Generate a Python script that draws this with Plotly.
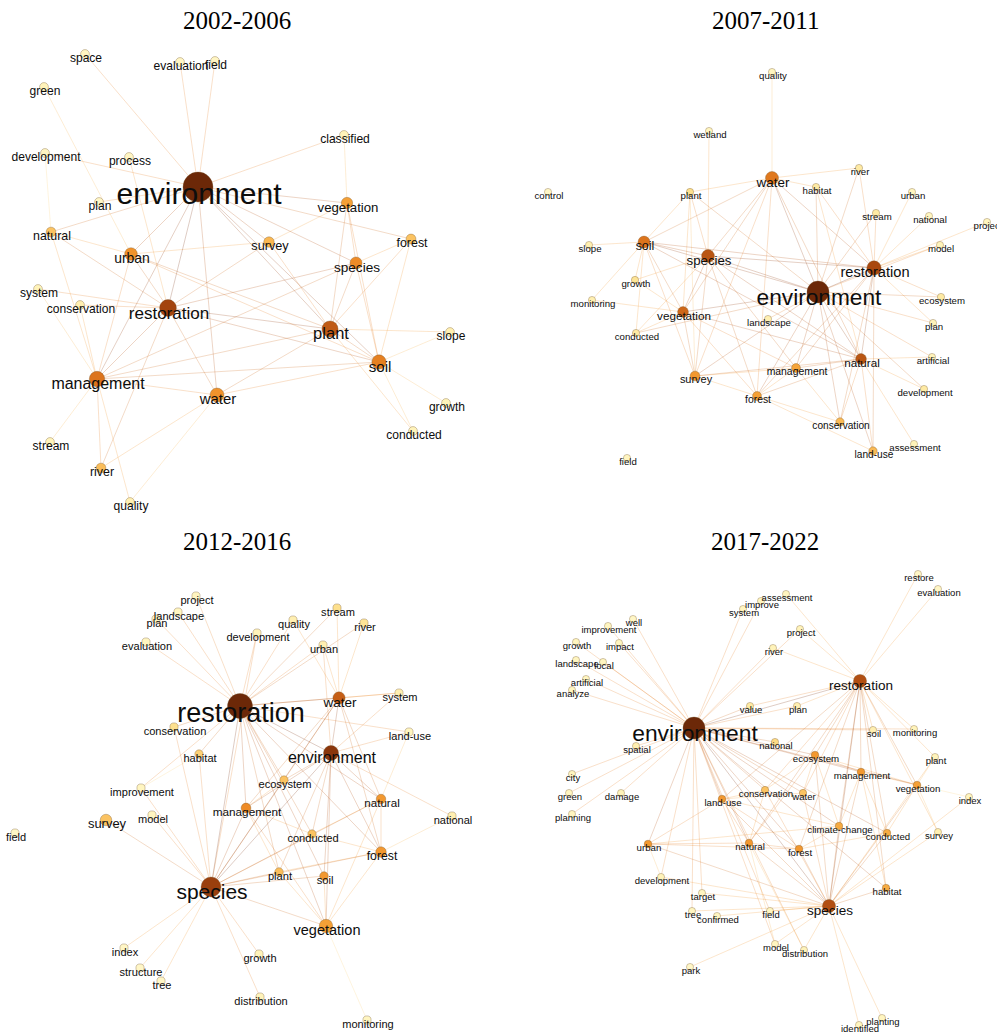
import plotly.graph_objects as go

# ---------------------------------------------------------------------------
# Keyword co-occurrence networks, four periods.
# Each node: layout position (x, y), frequency weight (drives node and label
# size) and centrality (drives node colour). Edges are keyword pairs.
# ---------------------------------------------------------------------------

# ---- 2002-2006 ----
p1_names = ["environment", "restoration", "plant", "management", "soil", "water", "urban",
            "species", "vegetation", "survey", "forest", "river", "natural", "space",
            "evaluation", "field", "green", "development", "process", "classified", "plan",
            "system", "conservation", "slope", "growth", "conducted", "stream", "quality"]
p1_x = [198, 168, 330, 97, 379, 217, 131, 356, 347, 269, 411, 101, 51, 85,
        180, 215, 44, 45, 129, 344, 99, 38, 80, 450, 446, 413, 50, 130]
p1_y = [187, 308, 329, 379, 362, 395, 254, 263, 203, 242, 239, 468, 232, 54,
        62, 61, 87, 153, 157, 135, 202, 289, 305, 332, 403, 431, 442, 502]
p1_freq = [1.0, 0.53, 0.5, 0.47, 0.42, 0.4, 0.33, 0.3, 0.26, 0.2, 0.16, 0.15, 0.15, 0.06,
           0.06, 0.06, 0.06, 0.06, 0.06, 0.07, 0.06, 0.06, 0.06, 0.06, 0.06, 0.06, 0.06, 0.06]
p1_cent = [0.97, 0.8, 0.7, 0.6, 0.55, 0.47, 0.47, 0.5, 0.42, 0.34, 0.3, 0.32, 0.3, 0.07,
           0.07, 0.07, 0.1, 0.07, 0.07, 0.1, 0.06, 0.1, 0.12, 0.12, 0.1, 0.1, 0.1, 0.12]
p1_edges = [
    ("environment", "space"), ("environment", "evaluation"), ("environment", "field"),
    ("environment", "development"), ("environment", "classified"), ("environment", "vegetation"),
    ("environment", "forest"), ("environment", "plan"), ("environment", "urban"),
    ("environment", "restoration"), ("environment", "management"), ("environment", "water"),
    ("environment", "plant"), ("environment", "soil"), ("environment", "species"),
    ("environment", "survey"), ("environment", "natural"),
    ("green", "urban"), ("process", "restoration"), ("development", "natural"),
    ("classified", "vegetation"), ("vegetation", "species"), ("vegetation", "survey"),
    ("vegetation", "plant"), ("vegetation", "soil"), ("forest", "species"), ("forest", "plant"),
    ("forest", "soil"), ("survey", "urban"), ("survey", "plant"), ("survey", "restoration"),
    ("natural", "restoration"), ("natural", "management"), ("natural", "urban"),
    ("urban", "restoration"), ("urban", "management"), ("urban", "plant"), ("urban", "soil"),
    ("species", "restoration"), ("species", "plant"), ("species", "soil"),
    ("species", "management"), ("system", "management"), ("system", "restoration"),
    ("conservation", "management"), ("conservation", "restoration"),
    ("restoration", "plant"), ("restoration", "water"), ("restoration", "management"),
    ("restoration", "river"), ("restoration", "soil"), ("plant", "slope"), ("plant", "soil"),
    ("plant", "water"), ("plant", "management"), ("plant", "conducted"), ("soil", "slope"),
    ("soil", "growth"), ("soil", "conducted"), ("soil", "management"), ("soil", "water"),
    ("management", "water"), ("management", "stream"), ("management", "river"),
    ("management", "quality"), ("water", "river"), ("water", "quality"),
]

# ---- 2007-2011 ----
p2_names = ["environment", "restoration", "species", "water", "soil", "natural", "vegetation",
            "survey", "management", "forest", "conservation", "land-use", "quality", "wetland",
            "river", "habitat", "control", "plant", "urban", "stream", "national", "project",
            "slope", "model", "growth", "ecosystem", "monitoring", "landscape", "plan",
            "conducted", "artificial", "development", "assessment", "field"]
p2_x = [318, 374, 208, 272, 144, 361, 183, 195, 296, 257, 340, 373, 272, 209,
        359, 316, 48, 190, 412, 376, 429, 487, 89, 440, 135, 441, 92, 268, 433,
        136, 432, 424, 414, 127]
p2_y = [292, 268, 256, 178, 242, 359, 312, 376, 368, 396, 422, 451, 72, 131,
        168, 187, 192, 192, 192, 213, 216, 222, 245, 245, 280, 297, 300, 319, 323,
        333, 357, 389, 444, 458]
p2_freq = [1.0, 0.62, 0.53, 0.54, 0.47, 0.4, 0.4, 0.32, 0.25, 0.25, 0.2, 0.2, 0.05, 0.05,
           0.06, 0.06, 0.05, 0.07, 0.05, 0.06, 0.05, 0.05, 0.05, 0.05, 0.07, 0.06, 0.05,
           0.05, 0.06, 0.06, 0.05, 0.06, 0.05, 0.05]
p2_cent = [0.97, 0.78, 0.72, 0.58, 0.6, 0.72, 0.65, 0.45, 0.4, 0.42, 0.33, 0.33, 0.08, 0.08,
           0.15, 0.15, 0.06, 0.2, 0.08, 0.15, 0.08, 0.08, 0.12, 0.1, 0.18, 0.15, 0.12,
           0.12, 0.1, 0.15, 0.1, 0.15, 0.1, 0.08]
p2_edges = [
    ("water", "quality"), ("water", "river"), ("water", "habitat"), ("water", "plant"),
    ("water", "soil"), ("water", "species"), ("water", "environment"), ("water", "restoration"),
    ("water", "survey"), ("water", "vegetation"), ("water", "natural"), ("water", "forest"),
    ("wetland", "species"), ("plant", "soil"), ("plant", "species"), ("plant", "vegetation"),
    ("plant", "survey"), ("plant", "environment"), ("habitat", "environment"),
    ("habitat", "natural"), ("habitat", "restoration"), ("river", "restoration"),
    ("river", "environment"), ("urban", "restoration"), ("stream", "restoration"),
    ("stream", "environment"), ("national", "restoration"), ("project", "restoration"),
    ("model", "restoration"), ("model", "environment"), ("soil", "slope"), ("soil", "species"),
    ("soil", "growth"), ("soil", "environment"), ("soil", "vegetation"), ("soil", "conducted"),
    ("soil", "survey"), ("soil", "restoration"), ("soil", "monitoring"), ("soil", "natural"),
    ("species", "environment"), ("species", "restoration"), ("species", "vegetation"),
    ("species", "survey"), ("species", "forest"), ("species", "growth"), ("species", "natural"),
    ("species", "management"), ("species", "conducted"), ("restoration", "environment"),
    ("restoration", "natural"), ("restoration", "ecosystem"), ("restoration", "conservation"),
    ("restoration", "plan"), ("restoration", "land-use"), ("restoration", "forest"),
    ("restoration", "management"), ("environment", "vegetation"), ("environment", "landscape"),
    ("environment", "management"), ("environment", "natural"), ("environment", "forest"),
    ("environment", "survey"), ("environment", "plan"), ("environment", "ecosystem"),
    ("environment", "artificial"), ("environment", "development"),
    ("environment", "conservation"), ("environment", "land-use"), ("environment", "conducted"),
    ("vegetation", "survey"), ("vegetation", "forest"), ("vegetation", "conducted"),
    ("vegetation", "monitoring"), ("vegetation", "natural"), ("vegetation", "management"),
    ("vegetation", "growth"), ("natural", "management"), ("natural", "development"),
    ("natural", "land-use"), ("natural", "assessment"), ("natural", "conservation"),
    ("natural", "artificial"), ("natural", "forest"), ("survey", "forest"),
    ("survey", "management"), ("survey", "natural"), ("management", "forest"),
    ("management", "conservation"), ("forest", "land-use"), ("forest", "conservation"),
]

# ---- 2012-2016 ----
p3_names = ["restoration", "species", "environment", "vegetation", "water", "survey", "forest",
            "management", "natural", "ecosystem", "conducted", "plant", "soil", "habitat",
            "project", "landscape", "plan", "quality", "stream", "river", "development",
            "evaluation", "urban", "system", "conservation", "land-use", "improvement",
            "national", "model", "field", "index", "growth", "structure", "tree",
            "distribution", "monitoring"]
p3_x = [240, 211, 331, 326, 339, 106, 381, 246, 381, 284, 312, 279, 324, 199,
        196, 178, 156, 293, 337, 364, 257, 146, 323, 399, 174, 409, 141,
        452, 152, 15, 124, 259, 140, 161, 260, 367]
p3_y = [190, 371, 237, 410, 182, 304, 336, 292, 283, 264, 318, 356, 360, 238,
        80, 96, 103, 104, 92, 107, 117, 126, 129, 177, 211, 216, 272,
        300, 299, 317, 432, 438, 452, 465, 481, 504]
p3_freq = [1.0, 0.79, 0.56, 0.47, 0.4, 0.35, 0.28, 0.22, 0.2, 0.08, 0.08, 0.1, 0.1, 0.07,
           0.05, 0.05, 0.05, 0.05, 0.06, 0.06, 0.05, 0.05, 0.05, 0.05, 0.06, 0.05, 0.05,
           0.05, 0.05, 0.04, 0.05, 0.05, 0.05, 0.05, 0.05, 0.05]
p3_cent = [0.97, 0.83, 0.88, 0.42, 0.68, 0.3, 0.45, 0.5, 0.45, 0.3, 0.3, 0.32, 0.45, 0.25,
           0.08, 0.08, 0.08, 0.12, 0.2, 0.18, 0.1, 0.08, 0.12, 0.12, 0.2, 0.08, 0.08,
           0.12, 0.08, 0.06, 0.06, 0.1, 0.06, 0.06, 0.1, 0.08]
p3_edges = [
    ("restoration", "project"), ("restoration", "landscape"), ("restoration", "plan"),
    ("restoration", "evaluation"), ("restoration", "development"), ("restoration", "quality"),
    ("restoration", "stream"), ("restoration", "river"), ("restoration", "urban"),
    ("restoration", "water"), ("restoration", "system"), ("restoration", "conservation"),
    ("restoration", "habitat"), ("restoration", "environment"), ("restoration", "ecosystem"),
    ("restoration", "improvement"), ("restoration", "management"), ("restoration", "natural"),
    ("restoration", "conducted"), ("restoration", "soil"), ("restoration", "plant"),
    ("restoration", "species"), ("restoration", "vegetation"), ("restoration", "forest"),
    ("restoration", "land-use"), ("water", "stream"), ("water", "river"), ("water", "urban"),
    ("water", "quality"), ("water", "system"), ("water", "environment"), ("water", "natural"),
    ("water", "species"), ("water", "forest"), ("water", "management"), ("water", "ecosystem"),
    ("environment", "urban"), ("environment", "land-use"), ("environment", "ecosystem"),
    ("environment", "natural"), ("environment", "management"), ("environment", "species"),
    ("environment", "forest"), ("environment", "conducted"), ("environment", "soil"),
    ("environment", "plant"), ("environment", "vegetation"), ("environment", "national"),
    ("environment", "system"), ("species", "survey"), ("species", "model"),
    ("species", "index"), ("species", "structure"), ("species", "tree"), ("species", "growth"),
    ("species", "distribution"), ("species", "plant"), ("species", "soil"),
    ("species", "vegetation"), ("species", "management"), ("species", "habitat"),
    ("species", "improvement"), ("species", "conservation"), ("species", "forest"),
    ("species", "natural"), ("species", "ecosystem"), ("species", "conducted"),
    ("species", "development"), ("vegetation", "monitoring"), ("vegetation", "soil"),
    ("vegetation", "plant"), ("vegetation", "forest"), ("vegetation", "natural"),
    ("vegetation", "management"), ("forest", "plant"), ("forest", "natural"),
    ("forest", "national"), ("forest", "conducted"), ("natural", "land-use"),
    ("natural", "conducted"), ("habitat", "improvement"), ("management", "ecosystem"),
    ("management", "plant"), ("management", "conducted"),
]

# ---- 2017-2022 ----
p4_names = ["environment", "restoration", "species", "ecosystem", "management", "vegetation",
            "land-use", "natural", "forest", "urban", "climate-change", "conducted", "habitat",
            "conservation", "water", "national", "restore", "evaluation", "assessment",
            "improve", "system", "well", "improvement", "project", "growth", "impact", "river",
            "landscape", "local", "artificial", "analyze", "value", "plan", "soil",
            "monitoring", "spatial", "plant", "city", "green", "damage", "index", "planning",
            "survey", "development", "target", "tree", "confirmed", "field", "model",
            "distribution", "park", "planting", "identified"]
p4_x = [194, 360, 329, 315, 361, 417, 222, 249, 299, 148, 339, 387, 386, 265, 303, 275,
        418, 438, 286, 261, 243, 133, 108, 300, 76, 119, 273, 76, 103, 86, 72, 250, 297,
        373, 414, 136, 435, 72, 69, 121, 469, 72, 438, 161, 202, 192, 217, 270, 275, 304,
        190, 382, 359]
p4_y = [212, 165, 390, 239, 256, 269, 283, 327, 333, 328, 310, 317, 372, 274, 277, 226,
        58, 73, 78, 85, 93, 103, 110, 113, 126, 127, 132, 144, 146, 163, 174, 190, 190,
        214, 213, 230, 241, 258, 277, 277, 281, 298, 316, 361, 377, 395, 400, 395, 428,
        434, 451, 502, 509]
p4_freq = [1.0, 0.55, 0.55, 0.12, 0.12, 0.12, 0.12, 0.12, 0.12, 0.12, 0.1, 0.1, 0.1, 0.08,
           0.08, 0.06, 0.04, 0.04, 0.04, 0.04, 0.04, 0.04, 0.04, 0.04, 0.04, 0.04, 0.04,
           0.04, 0.04, 0.04, 0.04, 0.05, 0.05, 0.05, 0.04, 0.04, 0.04, 0.04, 0.04, 0.04,
           0.04, 0.04, 0.04, 0.04, 0.04, 0.04, 0.04, 0.04, 0.04, 0.04, 0.04, 0.04, 0.04]
p4_cent = [0.97, 0.75, 0.75, 0.45, 0.45, 0.42, 0.45, 0.45, 0.45, 0.45, 0.38, 0.38, 0.38, 0.3,
           0.3, 0.22, 0.06, 0.06, 0.08, 0.08, 0.08, 0.06, 0.08, 0.1, 0.08, 0.08, 0.1, 0.08,
           0.08, 0.08, 0.08, 0.15, 0.12, 0.12, 0.1, 0.12, 0.1, 0.08, 0.08, 0.1, 0.08, 0.08,
           0.12, 0.1, 0.08, 0.08, 0.08, 0.08, 0.08, 0.1, 0.06, 0.08, 0.08]
p4_edges = (
    [("environment", k) for k in [
        "well", "improvement", "growth", "impact", "landscape", "local", "artificial",
        "analyze", "system", "improve", "river", "project", "value", "plan", "restoration",
        "soil", "monitoring", "spatial", "national", "ecosystem", "management", "city",
        "green", "damage", "planning", "land-use", "conservation", "water", "urban",
        "development", "natural", "forest", "climate-change", "conducted", "target", "tree",
        "species", "field", "model", "distribution", "vegetation", "habitat"]]
    + [("restoration", k) for k in [
        "restore", "evaluation", "assessment", "project", "river", "plan", "soil",
        "monitoring", "plant", "ecosystem", "management", "vegetation", "conducted",
        "habitat", "climate-change", "forest", "natural", "water", "species", "land-use",
        "conservation", "survey", "value"]]
    + [("species", k) for k in [
        "planting", "identified", "park", "model", "distribution", "field", "confirmed",
        "tree", "target", "habitat", "survey", "conducted", "climate-change", "forest",
        "natural", "urban", "land-use", "conservation", "water", "ecosystem", "management",
        "vegetation", "index", "plant", "development"]]
    + [("vegetation", "plant"), ("vegetation", "index"), ("vegetation", "survey"),
       ("vegetation", "conducted"), ("vegetation", "management"), ("vegetation", "ecosystem"),
       ("urban", "land-use"), ("urban", "development"), ("urban", "natural"),
       ("urban", "forest"), ("urban", "climate-change"), ("natural", "forest"),
       ("natural", "land-use"), ("natural", "distribution"), ("natural", "model"),
       ("natural", "conservation"), ("natural", "ecosystem"), ("land-use", "conservation"),
       ("land-use", "water"), ("land-use", "forest"), ("land-use", "climate-change"),
       ("management", "ecosystem"), ("management", "conducted"),
       ("management", "climate-change"), ("management", "habitat"),
       ("ecosystem", "water"), ("ecosystem", "conservation"), ("ecosystem", "climate-change"),
       ("forest", "climate-change"), ("forest", "conducted")]
)

titles = ["2002-2006", "2007-2011", "2012-2016", "2017-2022"]

# ---------------------------------------------------------------------------
# Styling
# ---------------------------------------------------------------------------
FIG_W, FIG_H = 997, 1033
COL_W = [500, 497]
ROW_H = [516, 517]

NODE_STOPS = [
    (0.0, "#fffbd8"), (0.1, "#fff3ba"), (0.2, "#fde08e"), (0.3, "#fbc362"),
    (0.4, "#f6a53a"), (0.5, "#ee8b26"), (0.6, "#dc741c"), (0.7, "#c05a14"),
    (0.8, "#a3440e"), (0.9, "#84320a"), (1.0, "#622407"),
]

# (min node diameter, max diameter, min label size, max label size)
panel_style = [
    (8.5, 30, 12, 30),
    (7.0, 22, 9.6, 22.7),
    (8.0, 25, 11, 27),
    (7.0, 22, 9.5, 22.8),
]

LABEL_FONT = "Liberation Sans, Arial, sans-serif"


def hex_rgb(h):
    h = h.lstrip("#")
    return tuple(int(h[i:i + 2], 16) for i in (0, 2, 4))


def scale_rgb(v):
    v = max(0.0, min(1.0, v))
    for (a, ca), (b, cb) in zip(NODE_STOPS[:-1], NODE_STOPS[1:]):
        if a <= v <= b:
            t = (v - a) / (b - a) if b > a else 0
            r1, g1, b1 = hex_rgb(ca)
            r2, g2, b2 = hex_rgb(cb)
            return (round(r1 + (r2 - r1) * t), round(g1 + (g2 - g1) * t),
                    round(b1 + (b2 - b1) * t))
    return hex_rgb(NODE_STOPS[-1][1])


panels = [
    (p1_names, p1_x, p1_y, p1_freq, p1_cent, p1_edges),
    (p2_names, p2_x, p2_y, p2_freq, p2_cent, p2_edges),
    (p3_names, p3_x, p3_y, p3_freq, p3_cent, p3_edges),
    (p4_names, p4_x, p4_y, p4_freq, p4_cent, p4_edges),
]

fig = go.Figure()
layout_axes = {}
annotations = []

for i, (names, xs, ys, freq, cent, edges) in enumerate(panels):
    row, col = divmod(i, 2)
    suffix = "" if i == 0 else str(i + 1)
    xref, yref = "x" + suffix, "y" + suffix
    dmin, dmax, fmin, fmax = panel_style[i]

    x0 = sum(COL_W[:col]) / FIG_W
    x1 = sum(COL_W[:col + 1]) / FIG_W
    ytop = 1 - sum(ROW_H[:row]) / FIG_H
    ybot = 1 - sum(ROW_H[:row + 1]) / FIG_H
    layout_axes["xaxis" + suffix] = dict(domain=[x0, x1], range=[0, COL_W[col]],
                                         visible=False, fixedrange=True, anchor=yref)
    layout_axes["yaxis" + suffix] = dict(domain=[ybot, ytop], range=[ROW_H[row], 0],
                                         visible=False, fixedrange=True, anchor=xref)

    pos = {n: (x, y) for n, x, y in zip(names, xs, ys)}
    cval = dict(zip(names, cent))

    # edges grouped by the mixed colour of their two endpoints
    buckets = {}
    for a, b in edges:
        if a not in pos or b not in pos:
            continue
        key = round((cval[a] + cval[b]) / 2, 1)
        bx, by = buckets.setdefault(key, ([], []))
        bx += [pos[a][0], pos[b][0], None]
        by += [pos[a][1], pos[b][1], None]
    for key in sorted(buckets):
        r, g, b = scale_rgb(key + 0.05)
        bx, by = buckets[key]
        fig.add_trace(go.Scatter(
            x=bx, y=by, mode="lines", xaxis=xref, yaxis=yref,
            line=dict(color=f"rgba({r},{g},{b},0.32)", width=0.75),
            hoverinfo="skip"))

    diam = [dmin + (dmax - dmin) * w ** 1.5 for w in freq]
    fsize = [fmin + (fmax - fmin) * w ** 2 for w in freq]

    # small nodes first so the larger ones sit on top
    order = sorted(range(len(names)), key=lambda k: freq[k])
    fig.add_trace(go.Scatter(
        x=[xs[k] for k in order], y=[ys[k] for k in order], mode="markers",
        xaxis=xref, yaxis=yref,
        marker=dict(size=[diam[k] for k in order], color=[cent[k] for k in order],
                    colorscale=[[s, c] for s, c in NODE_STOPS], cmin=0, cmax=1,
                    line=dict(color="rgba(110,80,40,0.55)", width=0.6), opacity=1),
        text=[names[k] for k in order], hoverinfo="text"))

    fig.add_trace(go.Scatter(
        x=[xs[k] + 1 for k in order],
        y=[ys[k] + 2 + 0.25 * fsize[k] for k in order],
        mode="text", xaxis=xref, yaxis=yref,
        text=[names[k] for k in order],
        textposition="middle center",
        textfont=dict(size=[fsize[k] for k in order], color="#0d0d0d", family=LABEL_FONT),
        hoverinfo="skip", cliponaxis=False))

    annotations.append(dict(
        text=titles[i], xref=xref, yref=yref,
        x=237 if col == 0 else 265, y=20 if row == 0 else 26,
        showarrow=False, xanchor="center", yanchor="middle",
        font=dict(family="Liberation Serif, Times New Roman, serif", size=25, color="#000")))

fig.update_layout(
    width=FIG_W, height=FIG_H,
    margin=dict(l=0, r=0, t=0, b=0),
    paper_bgcolor="white", plot_bgcolor="white",
    showlegend=False, annotations=annotations,
    **layout_axes,
)

fig.write_html("out.html")
